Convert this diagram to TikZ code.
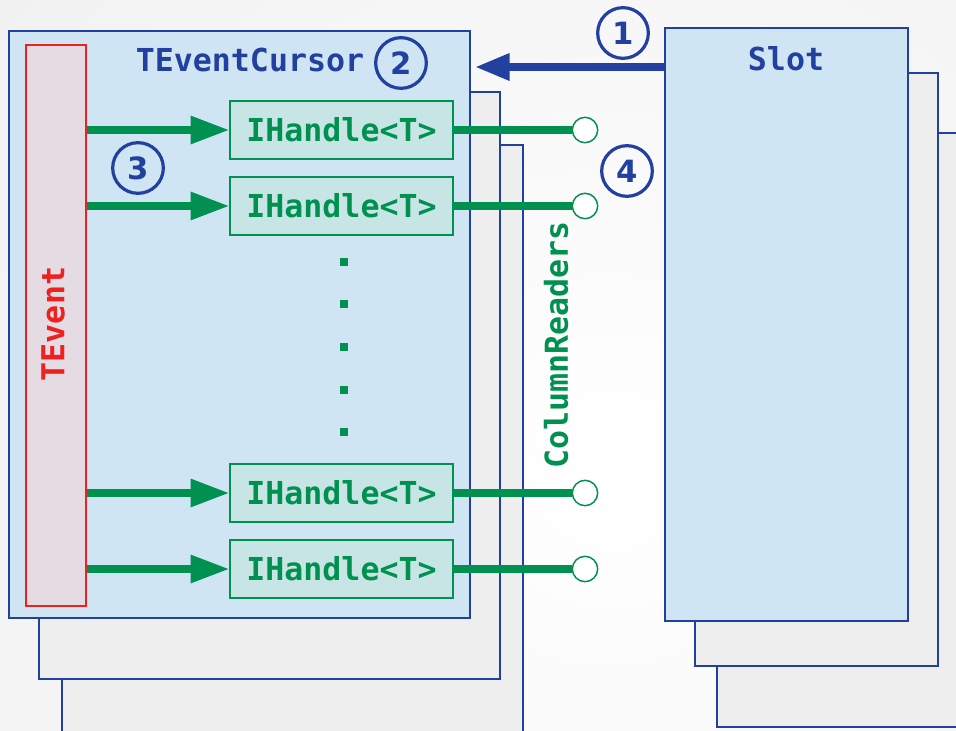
\documentclass[tikz,border=0pt]{standalone}
\usepackage{fontspec}
\setmonofont{DejaVu Sans Mono}
\newfontfamily\numfont{DejaVu Sans}
\usetikzlibrary{arrows.meta,fit}
\definecolor{bblue}{HTML}{2140A0}
\definecolor{lblue}{HTML}{D0E5F3}
\definecolor{lgray}{HTML}{EEEEEE}
\definecolor{bggray}{HTML}{ECECEC}
\definecolor{ggreen}{HTML}{009150}
\definecolor{lteal}{HTML}{C6E5E4}
\definecolor{rred}{HTML}{EE2020}
\definecolor{lpink}{HTML}{E5DBE3}
\begin{document}
\begin{tikzpicture}[x=0.75pt,y=-0.75pt,
  lbl/.style={font=\fontsize{23.7}{28}\selectfont\ttfamily\bfseries, inner sep=0pt},
  bluetxt/.style={lbl, text=bblue},
  greentxt/.style={lbl, text=ggreen},
  redtxt/.style={lbl, text=rred},
  stackbox/.style={draw=bblue, fill=lgray, line width=1.3pt},
  mainbox/.style={draw=bblue, fill=lblue, line width=1.3pt, inner sep=0pt},
  teventbox/.style={draw=rred, fill=lpink, line width=1.1pt, inner sep=0pt},
  handlebox/.style={draw=ggreen, fill=lteal, line width=1.1pt, inner sep=0pt, greentxt,
    minimum width=167.25pt, minimum height=43.5pt},
  port/.style={circle, draw=ggreen, fill=white, line width=1.1pt, minimum size=19pt, inner sep=0pt},
  garrow/.style={draw=ggreen, line width=5.3pt, -{Triangle[length=29pt,width=20pt]}},
  gline/.style={draw=ggreen, line width=5.3pt},
  barrow/.style={draw=bblue, line width=6pt, -{Triangle[length=26pt,width=19pt]}},
  numcirc/.style={circle, draw=bblue, line width=2.4pt, minimum size=38pt, inner sep=0pt,
    text=bblue, font=\fontsize{23}{24}\selectfont\numfont\bfseries},
  dotsq/.style={fill=ggreen}
]
\useasboundingbox (0,0) rectangle (956,731);
% background
\begin{scope}
\clip (0,0) rectangle (956,731);
\fill[bggray] (0,0) rectangle (956,731);
\shade[inner color=white, outer color=bggray] (610,470) circle (1050);
\end{scope}

% TEventCursor stack
\draw[stackbox] (62,145) rectangle (523,760);
\draw[stackbox] (39,92) rectangle (500,679);
\node[mainbox, fit={(9,31)(470,618)}] (cursor) {};
\node[bluetxt] (cursortitle) at (250,60) {TEventCursor};

% Slot stack
\draw[stackbox] (717,133) rectangle (980,727);
\draw[stackbox] (695,73) rectangle (938,666);
\node[mainbox, fit={(665,28)(908,621)}] (slot) {};
\node[bluetxt] (slottitle) at (786,59) {Slot};

% TEvent
\node[teventbox, fit={(26,45)(86,606)}] (tevent) {};
\node[redtxt, rotate=90] (teventlbl) at (53,324) {TEvent};

% handles
\node[handlebox] (h1) at (341.5,130) {IHandle<T>};
\node[handlebox] (h2) at (341.5,206) {IHandle<T>};
\node[handlebox] (h3) at (341.5,493) {IHandle<T>};
\node[handlebox] (h4) at (341.5,569) {IHandle<T>};

% ports
\node[port] (c1) at (585,130) {};
\node[port] (c2) at (585,206) {};
\node[port] (c3) at (585,493) {};
\node[port] (c4) at (585,569) {};

% arrows from TEvent
\foreach \h in {h1,h2,h3,h4} {
  \draw[garrow] (tevent.east |- \h.west) -- (\h.west);
}
% lines to ports
\draw[gline] (h1.east) -- (c1.west);
\draw[gline] (h2.east) -- (c2.west);
\draw[gline] (h3.east) -- (c3.west);
\draw[gline] (h4.east) -- (c4.west);

% dots
\foreach \y in {262,304,347,390,432} {
  \fill[dotsq] (340,\y-4) rectangle (348,\y+4);
}

% ColumnReaders
\node[greentxt, rotate=90] (colreaders) at (556,345) {ColumnReaders};

% blue arrow
\coordinate (ba) at (0,67);
\draw[barrow] (slot.west |- ba) -- ([xshift=3pt]cursor.east |- ba);

% numbered circles
\node[numcirc] (n1) at (623,33) {1};
\node[numcirc] (n2) at (401,63) {2};
\node[numcirc] (n3) at (138,168) {3};
\node[numcirc] (n4) at (627,171) {4};
\end{tikzpicture}
\end{document}
